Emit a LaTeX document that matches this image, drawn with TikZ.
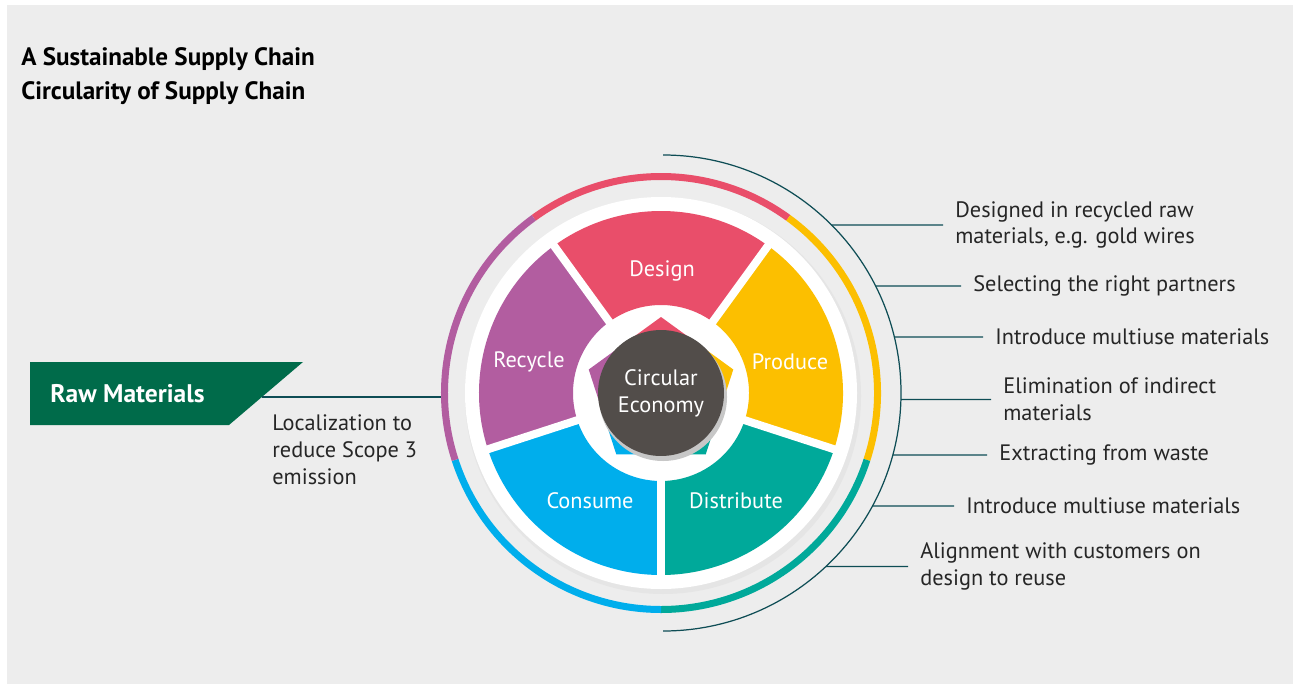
\documentclass[tikz,border=0pt]{standalone}
\usepackage{fontspec}
\setmainfont{PT Sans}
\usetikzlibrary{positioning}
\usetikzlibrary{calc}

\begin{document}
\begin{tikzpicture}[x=0.02cm, y=0.02cm, every node/.style={font=\fontsize{12.7}{15.3}\selectfont}]
		% Circularity of the supply chain around a five-step wheel

% Colors

\definecolor{panel}{RGB}{237,237,237}
\definecolor{cdesign}{RGB}{233,78,106}
\definecolor{cproduce}{RGB}{252,191,0}
\definecolor{cdistribute}{RGB}{0,169,154}
\definecolor{cconsume}{RGB}{0,174,236}
\definecolor{crecycle}{RGB}{178,93,160}
\definecolor{ccore}{RGB}{82,77,74}
\definecolor{lteal}{RGB}{14,77,85}
\definecolor{rgreen}{RGB}{0,107,74}

\tikzset{
  seglbl/.style={text=white},
  sidelbl/.style={anchor=west, align=left, inner xsep=0.24cm, inner ysep=0pt, text=black!85},
  leader/.style={lteal, line width=0.7pt}
}

% Outline
\useasboundingbox (0,0) rectangle (1293,684);
\fill[panel] (7,0) rectangle (1293,679);

\coordinate (O) at (661,291);
\coordinate (A) at (663,291);
\coordinate (rawend) at (262,287);
\coordinate (ringw) at (446,287);

% Title
\node[anchor=west, inner sep=0pt, font=\fontsize{14.3}{15}\selectfont\bfseries] (title) at (21,625) {A Sustainable Supply Chain};
\node[anchor=west, inner sep=0pt, font=\fontsize{14.3}{15}\selectfont\bfseries] (subtitle) at (21,591) {Circularity of Supply Chain};

% Raw materials
\fill[rgreen] (30,322) -- (303,322) -- (229,259) -- (30,259) -- cycle;
\node[anchor=west, inner sep=0pt, text=white, font=\fontsize{14.5}{15}\selectfont\bfseries] (raw) at (50,290) {Raw Materials};
\draw[leader, line width=1.1pt] (rawend) -- (ringw);
\node[anchor=west, align=left, inner sep=0pt, text=black!85] (local) at (272,234) {Localization to\\reduce Scope 3\\emission};

% Wheel
\fill[black!10] ($(O)+(2,-3)$) circle (198);
\fill[white] (O) circle (196);
\foreach \mid/\col in {90/cdesign, 18/cproduce, -54/cdistribute, -126/cconsume, 162/crecycle}
{
  \fill[\col] ($(O)+(\mid-36:88)$) arc[start angle=\mid-36, end angle=\mid+36, radius=88]
    -- ($(O)+(\mid+36:182)$) arc[start angle=\mid+36, end angle=\mid-36, radius=182] -- cycle;
  \draw[\col, line width=0.14cm] ($(O)+(\mid-36:216.5)$) arc[start angle=\mid-36, end angle=\mid+36, radius=216.5];
  \fill[\col] (O) -- ($(O)+(\mid-36:61.5)$) -- ($(O)+(\mid:76)$) -- ($(O)+(\mid+36:61.5)$) -- cycle;
}
\foreach \b in {54,126,198,270,342}
  \draw[white, line width=0.16cm] ($(O)+(\b:84)$) -- ($(O)+(\b:186)$);

% Nodes
\fill[black!22] ($(O)+(2,-4)$) circle (64);
\node[circle, fill=ccore, minimum size=2.52cm, inner sep=0pt, align=center, text=white] (core) at (O) {Circular\\Economy};
\node[seglbl] (design) at (662,413) {Design};
\node[seglbl] (produce) at (790,322) {Produce};
\node[seglbl] (distribute) at (736,183) {Distribute};
\node[seglbl] (consume) at (590,183) {Consume};
\node[seglbl] (recycle) at (529,322) {Recycle};

% Side labels
\draw[leader] ($(A)+(90:238)$) arc[start angle=90, end angle=-90, radius=238];
\node[sidelbl] (l1) at (943,459) {Designed in recycled raw\\materials, e.g. gold wires};
\node[sidelbl] (l2) at (961,398) {Selecting the right partners};
\node[sidelbl] (l3) at (983,347) {Introduce multiuse materials};
\node[sidelbl] (l4) at (991,284.5) {Elimination of indirect\\materials};
\node[sidelbl] (l5) at (987,229) {Extracting from waste};
\node[sidelbl] (l6) at (954,178) {Introduce multiuse materials};
\node[sidelbl] (l7) at (908,117.5) {Alignment with customers on\\design to reuse};

% Connections
\foreach \i/\dy in {1/168, 2/107, 3/56, 4/-6.5, 5/-62, 6/-113, 7/-173.5}
{
  \coordinate (p\i) at ($(A)+({asin(\dy/238)}:238)$);
  \draw[leader] (p\i) -- (l\i);
}
	\end{tikzpicture}
\end{document}
